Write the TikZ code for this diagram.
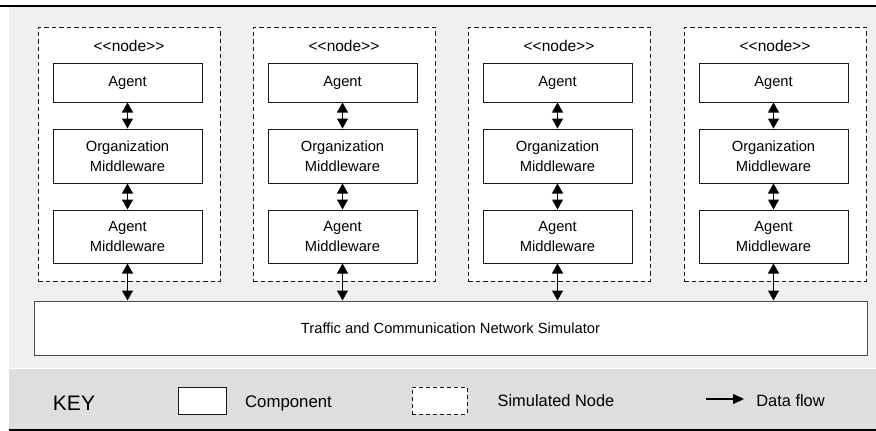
\documentclass[tikz,border=0pt]{standalone}
\usepackage{fontspec}
\setmainfont{Liberation Sans}
\usetikzlibrary{arrows.meta}
\definecolor{bgA}{HTML}{F0F0F0}
\definecolor{bgB}{HTML}{DEDEDE}
\definecolor{edge}{HTML}{1A1A1A}
\tikzset{
  comp/.style={draw=edge, line width=1pt, fill=white, inner sep=0pt, align=center,
    minimum width=149pt, font=\fontsize{14.7}{20}\selectfont},
  simnode/.style={draw=edge, line width=1pt, dash pattern=on 4.5pt off 3pt, fill=white,
    inner sep=0pt, minimum width=182pt, minimum height=254pt},
  flow/.style={line width=1.1pt, draw=black, {Triangle[width=11pt,length=10pt]}-{Triangle[width=11pt,length=10pt]}},
  keyflow/.style={line width=1.1pt, draw=black, -{Triangle[width=10pt,length=11pt]}},
  lbl/.style={inner sep=0pt, font=\fontsize{15.5}{18}\selectfont},
}
\begin{document}
\begin{tikzpicture}[x=1pt, y=-1pt]
\useasboundingbox (0,0) rectangle (876,431);
% backgrounds
\fill[bgA] (9,7) rectangle (876,368);
\fill[bgB] (9,368) rectangle (876,430);
\draw[white, line width=1pt] (9,368) -- (876,368);
\draw[black, line width=1.2pt] (0,6) -- (876,6);
\draw[black, line width=1.2pt] (9,430) -- (876,430);
% simulator
\node[comp, minimum width=833pt, minimum height=54pt, draw=black!70] (sim) at (450.5,328)
  {Traffic and Communication Network Simulator};
% columns
\foreach \i/\x in {1/38, 2/253, 3/468, 4/684} {
  \node[simnode] (n\i) at (\x+91,154) {};
  \node[lbl] (l\i) at (\x+91,46) {<{}<node>{}>};
  \node[comp, minimum height=39pt] (a\i) at (\x+89.5,82.5) {Agent};
  \node[comp, minimum height=54pt] (o\i) at (\x+89.5,156) {Organization\\Middleware};
  \node[comp, minimum height=53pt] (m\i) at (\x+89.5,236.5) {Agent\\Middleware};
  \draw[flow] (a\i) -- (o\i);
  \draw[flow] (o\i) -- (m\i);
  \draw[flow] (m\i.south) -- (m\i.south |- sim.north);
}
% key
\node[inner sep=0pt, font=\fontsize{21}{24}\selectfont] (key) at (74,403) {KEY};
\node[draw=edge, line width=1pt, fill=white, minimum width=48pt, minimum height=27pt, inner sep=0pt] (kc) at (202,400.5) {};
\node[inner sep=0pt, font=\fontsize{16.8}{20}\selectfont] (kct) at (288.5,403) {Component};
\node[draw=edge, line width=1pt, dash pattern=on 4pt off 3pt, fill=white, minimum width=55pt, minimum height=27pt, inner sep=0pt] (kn) at (439.5,400.5) {};
\node[inner sep=0pt, font=\fontsize{16.4}{20}\selectfont] (knt) at (556,401) {Simulated Node};
\coordinate (kf1) at (706,399);
\coordinate (kf2) at (744,399);
\draw[keyflow] (kf1) -- (kf2);
\node[inner sep=0pt, font=\fontsize{16.4}{20}\selectfont] (kft) at (790.5,401) {Data flow};
\end{tikzpicture}
\end{document}
